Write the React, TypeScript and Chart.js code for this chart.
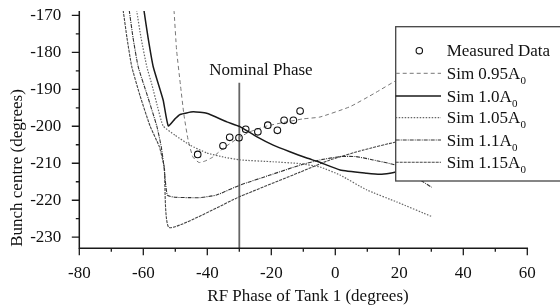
import React, { useEffect, useRef } from 'react';
import { Chart, registerables } from 'chart.js';

Chart.register(...registerables);

// ---- axis settings / tick labels ----
const X_MIN = -80;
const X_MAX = 60;
const Y_MIN = -233;
const Y_MAX = -168.8;
const xMajor = [-80, -60, -40, -20, 0, 20, 40, 60];
const xMinor = [-70, -50, -30, -10, 10, 30, 50];
const yMajor = [-170, -180, -190, -200, -210, -220, -230];
const yMinor = [-175, -185, -195, -205, -215, -225];

// ---- measured data ----
const measuredX = [-43.0, -35.1, -33.0, -30.1, -28.0, -24.2, -21.1, -18.1, -16.0, -13.1, -11.0];
const measuredY = [-207.6, -205.3, -203.0, -203.1, -200.8, -201.5, -199.7, -201.1, -198.4, -198.4, -195.9];

// ---- Sim 0.95 A0 ----
const sim095X = [-50.4, -49.6, -48.4, -47.3, -46.0, -44.5, -42.6, -40.7, -38.2, -35.1, -29.8, -26.7, -21.3, -15.1, -10.1, -4.8, 4.6, 12.4, 19.3, 30.1];
const sim095Y = [-168.6, -179.4, -188.8, -196.9, -203.7, -208.3, -209.8, -209.4, -208.3, -206.0, -202.9, -201.5, -199.9, -198.8, -198.0, -197.5, -194.7, -191.0, -187.5, -183.2];

// ---- Sim 1.0 A0 ----
const sim100X = [-59.8, -58.5, -56.9, -53.8, -52.2, -50.1, -48.5, -44.4, -40.2, -33.9, -29.8, -24.6, -19.4, -14.2, -8.9, -5.3, 1.5, 9.8, 14.0, 17.1, 19.2, 25.0, 30.1];
const sim100Y = [-168.6, -176.1, -183.9, -192.9, -199.9, -198.0, -196.8, -196.1, -196.5, -198.8, -200.1, -202.8, -205.1, -206.9, -208.6, -209.6, -211.8, -212.7, -213.0, -212.7, -212.3, -211.0, -209.5];

// ---- Sim 1.05 A0 ----
const sim105X = [-62.1, -60.7, -58.9, -57.3, -55.7, -53.8, -50.1, -45.4, -40.2, -34.5, -29.8, -19.5, -11.0, -4.8, 1.5, 9.8, 19.3, 30.1];
const sim105Y = [-168.6, -176.1, -183.9, -188.8, -194.2, -199.9, -202.4, -205.1, -207.2, -208.4, -209.1, -209.6, -210.1, -211.0, -213.2, -217.2, -220.5, -224.4];

// ---- Sim 1.1 A0 ----
const sim110X = [-64.4, -63.2, -61.6, -58.8, -55.8, -54.4, -53.6, -52.5, -50.1, -45.4, -42.3, -37.1, -29.8, -20.4, -11.0, -4.8, 1.5, 6.5, 11.8, 18.7, 27.4, 30.1];
const sim110Y = [-168.6, -176.1, -183.9, -191.5, -199.9, -205.5, -210.5, -218.6, -219.2, -219.3, -219.3, -218.6, -215.9, -213.2, -210.5, -209.1, -208.2, -208.2, -209.1, -210.5, -215.0, -216.5];

// ---- Sim 1.15 A0 ----
const sim115X = [-66.3, -65.1, -63.6, -61.0, -57.9, -55.0, -53.8, -53.4, -51.9, -29.8, -11.0, -1.7, 8.8, 19.2, 30.1];
const sim115Y = [-168.6, -176.1, -183.9, -191.8, -199.9, -205.5, -209.6, -211.3, -227.4, -219.0, -212.4, -209.1, -206.4, -204.2, -202.4];

// ---- nominal phase marker ----
const nominalX = [-30, -30];
const nominalY = [-188.2, -233];

const legendLabels = ['Measured Data', 'Sim 0.95A', 'Sim 1.0A', 'Sim 1.05A', 'Sim 1.1A', 'Sim 1.15A'];

const FONT = '"Liberation Serif", "Times New Roman", serif';

function pts(xs: number[], ys: number[]) {
  return xs.map((x, i) => ({ x, y: ys[i] }));
}

const styles = [
  { color: '#777777', dash: [4, 3], width: 1 },
  { color: '#1a1a1a', dash: [] as number[], width: 1.5 },
  { color: '#666666', dash: [1.5, 1.5], width: 1.2 },
  { color: '#333333', dash: [4, 1, 1, 1], width: 1.1 },
  { color: '#444444', dash: [3, 1], width: 1.1 },
];

export default function App() {
  const ref = useRef<HTMLCanvasElement>(null);

  useEffect(() => {
    if (!ref.current) return;

    const overlay = {
      id: 'overlay',
      afterDatasetsDraw(chart: any) {
        const { ctx, chartArea: ca, scales } = chart;
        const xs = scales.x;
        const ys = scales.y;
        ctx.save();
        // axis lines
        ctx.strokeStyle = '#1a1a1a';
        ctx.lineWidth = 1.5;
        ctx.setLineDash([]);
        ctx.beginPath();
        ctx.moveTo(ca.left, ca.top);
        ctx.lineTo(ca.left, ca.bottom);
        ctx.lineTo(ca.right + 0.75, ca.bottom);
        ctx.stroke();
        // ticks
        ctx.lineWidth = 1.3;
        ctx.beginPath();
        xMajor.forEach((v) => {
          const p = xs.getPixelForValue(v);
          ctx.moveTo(p, ca.bottom);
          ctx.lineTo(p, ca.bottom + 7);
        });
        xMinor.forEach((v) => {
          const p = xs.getPixelForValue(v);
          ctx.moveTo(p, ca.bottom);
          ctx.lineTo(p, ca.bottom + 3.5);
        });
        yMajor.forEach((v) => {
          const p = ys.getPixelForValue(v);
          ctx.moveTo(ca.left, p);
          ctx.lineTo(ca.left - 7.5, p);
        });
        yMinor.forEach((v) => {
          const p = ys.getPixelForValue(v);
          ctx.moveTo(ca.left, p);
          ctx.lineTo(ca.left - 3.5, p);
        });
        ctx.stroke();

        // nominal phase label
        ctx.fillStyle = '#111';
        ctx.font = `17px ${FONT}`;
        ctx.textAlign = 'left';
        ctx.textBaseline = 'alphabetic';
        ctx.fillText('Nominal Phase', xs.getPixelForValue(-39.4), ys.getPixelForValue(-186.1));

        // axis titles
        ctx.textAlign = 'center';
        ctx.fillText('RF Phase of Tank 1 (degrees)', 308, 301);
        ctx.save();
        ctx.translate(18, 168);
        ctx.rotate(-Math.PI / 2);
        ctx.textBaseline = 'middle';
        ctx.fillText('Bunch centre (degrees)', 0, 0);
        ctx.restore();

        // legend box
        const bx = 395.7, by = 26.7, bw = 170, bh = 154.3;
        ctx.fillStyle = '#ffffff';
        ctx.fillRect(bx, by, bw, bh);
        ctx.strokeStyle = '#444';
        ctx.lineWidth = 1.3;
        ctx.strokeRect(bx, by, bw, bh);

        const rowY = [50.7, 73.3, 96, 117.7, 140, 162.3];
        const textX = 446.7;
        // measured marker
        ctx.beginPath();
        ctx.lineWidth = 1.1;
        ctx.strokeStyle = '#111';
        ctx.arc(419.3, rowY[0], 3.2, 0, Math.PI * 2);
        ctx.stroke();
        ctx.fillStyle = '#111';
        ctx.textAlign = 'left';
        ctx.textBaseline = 'alphabetic';
        ctx.font = `17px ${FONT}`;
        ctx.fillText(legendLabels[0], textX, rowY[0] + 5.5);
        for (let i = 1; i < legendLabels.length; i++) {
          const s = styles[i - 1];
          ctx.beginPath();
          ctx.strokeStyle = s.color;
          ctx.lineWidth = s.width;
          ctx.setLineDash(s.dash);
          ctx.moveTo(bx, rowY[i]);
          ctx.lineTo(441, rowY[i]);
          ctx.stroke();
          ctx.setLineDash([]);
          ctx.font = `17px ${FONT}`;
          ctx.fillText(legendLabels[i], textX, rowY[i] + 5.5);
          const w = ctx.measureText(legendLabels[i]).width;
          ctx.font = `11px ${FONT}`;
          ctx.fillText('0', textX + w, rowY[i] + 10.5);
        }
        ctx.restore();
      },
    };

    const simSets = [
      [sim095X, sim095Y],
      [sim100X, sim100Y],
      [sim105X, sim105Y],
      [sim110X, sim110Y],
      [sim115X, sim115Y],
    ].map(([xs, ys], i) => ({
      label: legendLabels[i + 1],
      data: pts(xs, ys),
      showLine: true,
      pointRadius: 0,
      borderColor: styles[i].color,
      borderDash: styles[i].dash,
      borderWidth: styles[i].width,
      tension: 0.15,
      fill: false,
    }));

    const chart = new Chart(ref.current, {
      type: 'scatter',
      data: {
        datasets: [
          {
            label: legendLabels[0],
            data: pts(measuredX, measuredY),
            showLine: false,
            pointRadius: 3.3,
            pointStyle: 'circle',
            pointBackgroundColor: 'rgba(0,0,0,0)',
            pointBorderColor: '#111',
            pointBorderWidth: 1.1,
          },
          ...simSets,
          {
            label: 'Nominal',
            data: pts(nominalX, nominalY),
            showLine: true,
            pointRadius: 0,
            borderColor: '#666666',
            borderWidth: 1.8,
          },
        ],
      },
      options: {
        animation: false,
        responsive: true,
        maintainAspectRatio: false,
        layout: { padding: { left: 0, right: 32.7, top: 10.9, bottom: 0 } },
        plugins: { legend: { display: false }, tooltip: { enabled: false } },
        events: [],
        scales: {
          x: {
            type: 'linear',
            min: X_MIN,
            max: X_MAX,
            grid: { display: false },
            border: { display: false },
            ticks: { color: '#111', font: { family: FONT, size: 17 }, padding: 7 },
            afterBuildTicks: (s: any) => {
              s.ticks = xMajor.map((v) => ({ value: v }));
            },
            afterFit: (s: any) => {
              s.height = 58.7;
              s.paddingLeft = 0;
              s.paddingRight = 0;
              s.paddingTop = 0;
              s.paddingBottom = 0;
            },
          },
          y: {
            type: 'linear',
            min: Y_MIN,
            max: Y_MAX,
            grid: { display: false },
            border: { display: false },
            ticks: { color: '#111', font: { family: FONT, size: 17 }, padding: 10 },
            afterBuildTicks: (s: any) => {
              s.ticks = yMajor.map((v) => ({ value: v }));
            },
            afterFit: (s: any) => {
              s.width = 79.3;
              s.paddingLeft = 0;
              s.paddingRight = 0;
              s.paddingTop = 0;
              s.paddingBottom = 0;
            },
          },
        },
      },
      plugins: [overlay],
    } as any);

    return () => chart.destroy();
  }, []);

  return (
    <div style={{ position: 'fixed', left: 0, top: 0, width: 560, height: 307, background: '#fff' }}>
      <canvas ref={ref} />
    </div>
  );
}
